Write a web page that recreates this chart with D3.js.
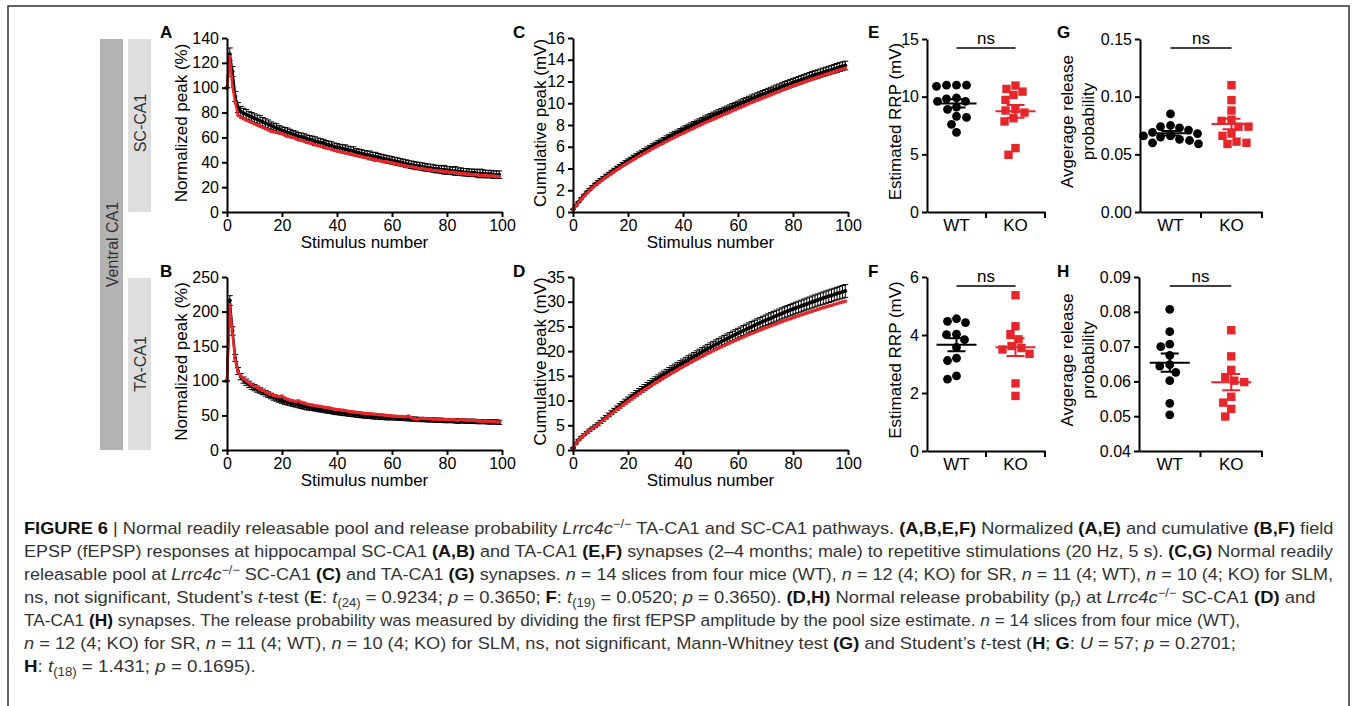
<!DOCTYPE html>
<html>
<head>
<meta charset="utf-8">
<script src="https://cdn.jsdelivr.net/npm/d3@7"></script>
<style>
  body { margin: 0; background: #fff; }
  svg text { font-family: "Liberation Sans", Arial, Helvetica, sans-serif; }
</style>
</head>
<body>
<svg id="fig" width="1354" height="706"></svg>
<script>
// ---- data ----
const groups = ["WT", "KO"];

// A: SC-CA1 normalized peak (%), stimulus 1..100
const normSC_wt = [100,127,113,93,84,81,79.5,78.5,77.5,76.5,
  75.5,74.5,73.5,72.5,71.5,70.5,69.5,68.5,67.5,66.5,
  65.5,65,64,63.5,62.5,62,61,60.5,60,59,
  58.5,58,57,56.5,56,55.5,54.5,54,53.5,52.5,
  52,51.5,51,50.5,50,49.5,49,48,47.5,47,
  46.5,46,45.5,45,44.5,44,43.5,43,42.5,42,
  41.5,41,40.5,40,39.5,39,38.5,38,37.5,37,
  37,36.5,36,35.5,35.5,35,34.5,34.5,34,34,
  33.5,33.5,33,33,32.5,32.5,32,32,31.5,31.5,
  31.5,31,31,31,30.5,30.5,30.5,30,30,30];
const normSC_wtSem = [0,5,4,4,4,4,4,4,3.5,3.5,
  3.5,3.5,4,3.5,3.5,3.5,3,3,3.5,3,
  3,3,3.5,3,3,3,3,3,3,3,
  3,3,3.5,3,3,3,3,3,3,3,
  3,3,3,3.5,3,3,3.5,3,3,3,
  3,3,3.5,3,3.5,3,3,3,3,3,
  3,3,3,3,3,3,3,3,3,3,
  3,3,3,3,3,3,3,3,3,3.5,
  3,3,3,3.5,3,3,3,3,3,3,
  3,3,3.5,3,3,3,3,3,3,3];
const normSC_ko = [100,125,101,88,78,76,75,74,73,72,
  71,70,69,68,67,66,65,64.5,64,63.5,
  63,62,61,60.5,60,59,58,57.5,57,56,
  55.5,55,54,53.5,53,52,51.5,51,50.5,49.5,
  49,48.5,48,47.5,47,46.5,46,45.5,45,44.5,
  44,43.5,43,42.5,42,41.5,41,40.5,40.5,40,
  39.5,39,38.5,38,37.5,37,36.5,36.5,36,35.5,
  35,35,34.5,34,34,33.5,33.5,33,33,32.5,
  32.5,32,32,31.5,31.5,31,31,30.5,30.5,30,
  30,30,29.5,29.5,29.5,29,29,29,28.5,28.5];

// B: TA-CA1 normalized peak (%)
const normTA_wt = [100,216,172,133,114,106,101,98,95,92,
  90,88,86,84,82,80,78,76,74.5,73,
  71.5,70,69,68,67,66,65,64,63,62,
  61,60.5,60,59,58.5,58,57,56.5,56,55,
  54.5,54,53.5,53,52.5,52,51.5,51,50.5,50,
  49.5,49,49,48.5,48,48,47.5,47.5,47,47,
  46.5,46.5,46,46,45.5,45.5,45,45,44.5,44.5,
  44,44,44,43.5,43.5,43.5,43,43,43,42.5,
  42.5,42.5,42.5,42,42,42,42,41.5,41.5,41.5,
  41.5,41,41,41,41,40.5,40.5,40.5,40.5,40];
const normTA_wtSem = [0,7,6,5,5,4.5,4.5,4.5,4.5,4.5,
  4.5,4.5,4,4,4,4,4,4,4,4,
  4,4,4,4,4,4,4,4,4,4,
  3.5,3.5,3.5,3.5,3.5,3.5,3.5,3.5,3.5,3.5,
  3.5,3.5,3.5,3.5,3.5,3.5,3.5,3.5,3.5,3.5,
  3.5,3.5,3.5,3.5,3.5,3.5,3.5,3.5,3.5,3.5,
  3,3,3,3,3,3,3,3,3,3,
  3,3,3,3,3,3,3,3,3,3,
  3,3,3,3,3.5,3,3,3,3,3,
  3,3,3,3,3,3,3,3,3,3];
const normTA_ko = [100,210,168,130,113,107,103,100,97,94,
  92,90,88,86,84,82,80.5,79,78,77,
  78,75,73.5,72,71,70.5,71,69,68,66.5,
  65.5,65,64,63.5,63,62,61.5,61,60,59,
  58.5,58,57.5,57,56,55.5,55,54.5,54,53.5,
  53,52.5,52.5,52,51.5,51,51,50.5,50,49.5,
  49,49,48.5,48.5,48,48,49,47,45,44.5,
  45,46,45.5,45,45,44.5,44.5,44,44.5,44,
  44,43.5,44,43.5,43,44,43.5,43,42.5,43,
  42.5,42,42,41.5,42,41.5,41,41,40.5,40.5];

// C: SC-CA1 cumulative peak (mV)
const cumSC_wt = [0.25,0.60,0.92,1.25,1.55,1.83,2.08,2.32,2.55,2.76,
  2.96,3.15,3.34,3.52,3.70,3.88,4.05,4.22,4.39,4.55,
  4.71,4.87,5.03,5.18,5.33,5.48,5.63,5.78,5.93,6.07,
  6.21,6.35,6.49,6.63,6.77,6.91,7.04,7.17,7.30,7.43,
  7.56,7.69,7.82,7.94,8.06,8.18,8.30,8.42,8.54,8.66,
  8.78,8.89,9.00,9.11,9.22,9.33,9.44,9.55,9.66,9.77,
  9.88,9.99,10.10,10.21,10.32,10.43,10.53,10.63,10.73,10.83,
  10.93,11.03,11.13,11.23,11.33,11.43,11.53,11.63,11.72,11.81,
  11.90,11.99,12.08,12.17,12.26,12.35,12.44,12.53,12.61,12.69,
  12.77,12.85,12.93,13.01,13.09,13.17,13.25,13.33,13.40,13.47];
const cumSC_wtSem = [0.02,0.04,0.05,0.06,0.07,0.08,0.09,0.1,0.1,0.11,
  0.12,0.12,0.13,0.13,0.14,0.14,0.15,0.15,0.16,0.16,
  0.17,0.17,0.18,0.18,0.19,0.19,0.2,0.2,0.2,0.21,
  0.21,0.22,0.22,0.22,0.23,0.23,0.24,0.24,0.24,0.25,
  0.25,0.25,0.26,0.26,0.26,0.27,0.27,0.27,0.28,0.28,
  0.28,0.29,0.29,0.29,0.3,0.3,0.3,0.3,0.31,0.31,
  0.31,0.32,0.32,0.32,0.32,0.33,0.33,0.33,0.33,0.34,
  0.34,0.34,0.34,0.35,0.35,0.35,0.35,0.36,0.36,0.36,
  0.36,0.37,0.37,0.37,0.37,0.37,0.38,0.38,0.38,0.38,
  0.38,0.39,0.39,0.39,0.39,0.4,0.4,0.4,0.4,0.4];
const cumSC_ko = [0.22,0.55,0.86,1.17,1.46,1.73,1.98,2.21,2.43,2.64,
  2.84,3.03,3.21,3.39,3.56,3.73,3.90,4.06,4.22,4.38,
  4.53,4.68,4.83,4.98,5.13,5.27,5.41,5.55,5.69,5.83,
  5.97,6.10,6.23,6.36,6.49,6.62,6.75,6.88,7.00,7.12,
  7.24,7.36,7.48,7.60,7.72,7.84,7.96,8.08,8.20,8.31,
  8.42,8.53,8.64,8.75,8.86,8.97,9.08,9.19,9.30,9.41,
  9.52,9.63,9.74,9.85,9.96,10.07,10.18,10.28,10.38,10.48,
  10.58,10.68,10.78,10.88,10.98,11.08,11.18,11.28,11.38,11.48,
  11.58,11.68,11.77,11.86,11.95,12.04,12.13,12.22,12.31,12.40,
  12.49,12.58,12.66,12.74,12.82,12.90,12.98,13.06,13.14,13.22];

// D: TA-CA1 cumulative peak (mV)
const cumTA_wt = [0.4,1.3,2.0,2.6,3.1,3.55,4.0,4.4,4.8,5.2,
  5.68,6.16,6.63,7.1,7.56,8.02,8.47,8.92,9.36,9.8,
  10.22,10.64,11.05,11.46,11.86,12.26,12.65,13.04,13.42,13.8,
  14.17,14.54,14.9,15.26,15.61,15.96,16.3,16.64,16.97,17.3,
  17.63,17.96,18.28,18.6,18.92,19.24,19.55,19.86,20.17,20.48,
  20.78,21.08,21.37,21.66,21.95,22.24,22.52,22.8,23.08,23.36,
  23.63,23.9,24.17,24.44,24.7,24.96,25.22,25.48,25.73,25.98,
  26.22,26.46,26.7,26.94,27.17,27.4,27.63,27.86,28.08,28.3,
  28.51,28.72,28.93,29.14,29.35,29.55,29.75,29.95,30.15,30.35,
  30.54,30.73,30.92,31.1,31.28,31.46,31.64,31.82,32.0,32.17];
const cumTA_wtSem = [0.05,0.1,0.13,0.16,0.19,0.21,0.23,0.25,0.27,0.29,
  0.31,0.33,0.35,0.37,0.39,0.41,0.43,0.45,0.46,0.48,
  0.5,0.52,0.53,0.55,0.56,0.58,0.59,0.61,0.62,0.64,
  0.65,0.66,0.68,0.69,0.7,0.72,0.73,0.74,0.75,0.77,
  0.78,0.79,0.8,0.81,0.82,0.83,0.85,0.86,0.87,0.88,
  0.89,0.9,0.91,0.92,0.93,0.94,0.95,0.96,0.97,0.98,
  0.99,1.0,1.01,1.02,1.02,1.03,1.04,1.05,1.06,1.07,
  1.08,1.09,1.09,1.1,1.11,1.12,1.13,1.13,1.14,1.15,
  1.16,1.16,1.17,1.18,1.19,1.19,1.2,1.21,1.22,1.22,
  1.23,1.24,1.24,1.25,1.26,1.26,1.27,1.28,1.28,1.29];
const cumTA_ko = [0.4,1.25,1.95,2.55,3.05,3.5,3.92,4.32,4.71,5.1,
  5.56,6.01,6.46,6.9,7.34,7.77,8.2,8.62,9.04,9.45,
  9.85,10.25,10.64,11.03,11.41,11.79,12.16,12.53,12.89,13.25,
  13.6,13.95,14.29,14.63,14.96,15.29,15.62,15.94,16.26,16.58,
  16.89,17.2,17.5,17.8,18.1,18.39,18.68,18.97,19.25,19.53,
  19.81,20.08,20.35,20.62,20.88,21.14,21.4,21.65,21.9,22.15,
  22.4,22.64,22.88,23.12,23.35,23.58,23.81,24.04,24.26,24.48,
  24.7,24.92,25.13,25.34,25.55,25.76,25.96,26.16,26.36,26.56,
  26.76,26.95,27.14,27.33,27.52,27.71,27.89,28.07,28.25,28.43,
  28.61,28.78,28.95,29.12,29.29,29.46,29.62,29.78,29.94,30.1];

// E-H: per-slice values
const rrpSC_wt = [11.0,10.9,11.0,11.0,9.9,9.8,9.6,9.6,9.1,8.9,8.2,8.3,7.6,6.9];
const rrpSC_ko = [10.15,10.67,10.96,10.44,9.72,8.8,8.91,8.62,8.13,7.85,5.54,4.96];
const rrpTA_wt = [4.47,4.43,4.56,4.03,4.01,3.84,3.57,3.12,3.2,2.48,2.59];
const rrpTA_ko = [5.37,4.3,4.03,3.85,3.62,3.55,3.5,3.35,2.33,1.9];
const prSC_wt = [0.085,0.075,0.074,0.073,0.071,0.069,0.068,0.066,0.066,0.065,0.063,0.062,0.060,0.059];
const prSC_ko = [0.110,0.097,0.088,0.080,0.079,0.074,0.074,0.068,0.066,0.061,0.060,0.059];
const prTA_wt = [0.0807,0.0743,0.0707,0.0700,0.0675,0.0648,0.0644,0.0626,0.0602,0.0537,0.0504];
const prTA_ko = [0.0747,0.0672,0.0633,0.0612,0.0602,0.0598,0.0556,0.0539,0.0521,0.0499];

// caption: [text, style]  B bold, I italic, ^ superscript, _ subscript
const captionLines = [
  [["FIGURE 6","B"],[" | Normal readily releasable pool and release probability ",""],["Lrrc4c","I"],["−/−","^"],[" TA-CA1 and SC-CA1 pathways. ",""],["(A,B,E,F)","B"],[" Normalized ",""],["(A,E)","B"],[" and cumulative ",""],["(B,F)","B"],[" field",""]],
  [["EPSP (fEPSP) responses at hippocampal SC-CA1 ",""],["(A,B)","B"],[" and TA-CA1 ",""],["(E,F)","B"],[" synapses (2–4 months; male) to repetitive stimulations (20 Hz, 5 s). ",""],["(C,G)","B"],[" Normal readily",""]],
  [["releasable pool at ",""],["Lrrc4c","I"],["−/−","^"],[" SC-CA1 ",""],["(C)","B"],[" and TA-CA1 ",""],["(G)","B"],[" synapses. ",""],["n","I"],[" = 14 slices from four mice (WT), ",""],["n","I"],[" = 12 (4; KO) for SR, ",""],["n","I"],[" = 11 (4; WT), ",""],["n","I"],[" = 10 (4; KO) for SLM,",""]],
  [["ns, not significant, Student’s ",""],["t","I"],["-test (",""],["E","B"],[": ",""],["t","I"],["(24)","_"],[" = 0.9234; ",""],["p","I"],[" = 0.3650; ",""],["F","B"],[": ",""],["t","I"],["(19)","_"],[" = 0.0520; ",""],["p","I"],[" = 0.3650). ",""],["(D,H)","B"],[" Normal release probability (p",""],["r","I_"],[") at ",""],["Lrrc4c","I"],["−/−","^"],[" SC-CA1 ",""],["(D)","B"],[" and",""]],
  [["TA-CA1 ",""],["(H)","B"],[" synapses. The release probability was measured by dividing the first fEPSP amplitude by the pool size estimate. ",""],["n","I"],[" = 14 slices from four mice (WT),",""]],
  [["n","I"],[" = 12 (4; KO) for SR, ",""],["n","I"],[" = 11 (4; WT), ",""],["n","I"],[" = 10 (4; KO) for SLM, ns, not significant, Mann-Whitney test ",""],["(G)","B"],[" and Student’s ",""],["t","I"],["-test (",""],["H","B"],["; ",""],["G","B"],[": ",""],["U","I"],[" = 57; ",""],["p","I"],[" = 0.2701;",""]],
  [["H","B"],[": ",""],["t","I"],["(18)","_"],[" = 1.431; ",""],["p","I"],[" = 0.1695).",""]]
];
const captionEnds = [1335, 1334, 1334, 1316, 1241, 1237, 256];

// ---- drawing ----
const svg = d3.select("#fig");
const RED = "#e6262b";

// outer frame
svg.append("rect").attr("x", 8).attr("y", 6).attr("width", 1341).attr("height", 720)
  .attr("fill", "none").attr("stroke", "#333").attr("stroke-width", 1.5);

// side labels
svg.append("rect").attr("x", 100).attr("y", 39).attr("width", 23).attr("height", 411).attr("fill", "#b3b3b3");
svg.append("rect").attr("x", 128).attr("y", 39).attr("width", 23).attr("height", 173).attr("fill", "#dedede");
svg.append("rect").attr("x", 128).attr("y", 278).attr("width", 23).attr("height", 172).attr("fill", "#dedede");
[["Ventral CA1", 111.5, 244.5], ["SC-CA1", 139.5, 123], ["TA-CA1", 139.5, 364]].forEach(([t, cx, cy]) => {
  svg.append("text").attr("transform", `translate(${cx + 6},${cy}) rotate(-90)`)
    .attr("text-anchor", "middle").attr("font-size", 16).attr("fill", "#333").text(t);
});

function styleAxis(a) {
  a.attr("font-family", null);
  a.select(".domain").attr("stroke-width", 2);
  a.selectAll(".tick line").attr("stroke-width", 2);
  a.selectAll(".tick text").attr("font-size", 16).attr("fill", "#000");
}

function panelLetter(t, x, y) {
  svg.append("text").attr("x", x).attr("y", y).attr("font-size", 17).attr("font-weight", "bold").text(t);
}

function lineChart(o) {
  const x = d3.scaleLinear().domain([0, 100]).range([o.x0, o.x1]);
  const y = d3.scaleLinear().domain([0, o.yMax]).range([o.yb, o.yt]);
  const g = svg.append("g");
  const wt = o.wt.map((v, i) => ({ i, v, e: o.sem[i] }));
  const ko = o.ko.map((v, i) => ({ i, v }));
  const line = d3.line().x(d => x(d.i)).y(d => y(d.v));

  g.selectAll(".eb").data(wt).enter().append("path")
    .attr("d", d => {
      const xx = x(d.i), y1 = y(d.v + d.e), y2 = y(d.v - d.e);
      return `M${xx},${y1}V${y2}M${xx - 3},${y1}h6M${xx - 3},${y2}h6`;
    })
    .attr("fill", "none").attr("stroke", "#000").attr("stroke-width", 1);
  g.append("path").datum(wt).attr("d", line).attr("fill", "none").attr("stroke", "#000").attr("stroke-width", 2.5);
  g.selectAll(".wd").data(wt).enter().append("circle")
    .attr("cx", d => x(d.i)).attr("cy", d => y(d.v)).attr("r", 2).attr("fill", "#000");

  g.append("path").datum(ko).attr("d", line).attr("fill", "none").attr("stroke", RED).attr("stroke-width", 2.5);
  g.selectAll(".kd").data(ko).enter().append("rect")
    .attr("x", d => x(d.i) - 1.6).attr("y", d => y(d.v) - 1.6).attr("width", 3.2).attr("height", 3.2).attr("fill", RED);

  const ya = g.append("g").attr("transform", `translate(${o.x0},0)`)
    .call(d3.axisLeft(y).tickValues(o.yTicks).tickSize(5).tickSizeOuter(0).tickPadding(3).tickFormat(d3.format("d")));
  styleAxis(ya);
  const xa = g.append("g").attr("transform", `translate(0,${o.yb})`)
    .call(d3.axisBottom(x).tickValues([0, 20, 40, 60, 80, 100]).tickSize(5).tickSizeOuter(0).tickPadding(3).tickFormat(d3.format("d")));
  styleAxis(xa);

  g.append("text").attr("x", (o.x0 + o.x1) / 2).attr("y", o.yb + 36).attr("text-anchor", "middle")
    .attr("font-size", 17).text("Stimulus number");
  g.append("text").attr("transform", `translate(${o.labX},${(o.yb + o.yt) / 2 - 2}) rotate(-90)`)
    .attr("text-anchor", "middle").attr("font-size", 17).text(o.yLabel);
}

function swarm(vals, y, r) {
  const placed = [];
  const pts = vals.map(v => ({ v, py: y(v) })).sort((a, b) => a.py - b.py);
  pts.forEach(p => {
    p.dx = 0;
    for (let k = 0; k < 80; k++) {
      const off = k === 0 ? 0 : (k % 2 ? -1 : 1) * Math.ceil(k / 2);
      if (placed.every(q => Math.hypot(q.dx - off, q.py - p.py) >= 2 * r + 0.4)) { p.dx = off; break; }
    }
    placed.push(p);
  });
  return pts;
}

function dotChart(o) {
  const x = d3.scaleBand().domain(groups).range([o.x0, o.x1]);
  const y = d3.scaleLinear().domain(o.yDom).range([o.yb, o.yt]);
  const g = svg.append("g");

  const ya = g.append("g").attr("transform", `translate(${o.x0},0)`)
    .call(d3.axisLeft(y).tickValues(o.yTicks).tickSize(5).tickSizeOuter(0).tickPadding(3).tickFormat(o.fmt));
  styleAxis(ya);
  const xa = g.append("g").attr("transform", `translate(0,${o.yb})`)
    .call(d3.axisBottom(x).tickSize(0).tickSizeOuter(0).tickPadding(7));
  styleAxis(xa);
  xa.selectAll(".tick text").attr("font-size", 17);
  groups.forEach(gr => {
    const bx = x(gr) + x.bandwidth();
    xa.append("line").attr("x1", bx).attr("x2", bx).attr("y1", 0).attr("y2", 6)
      .attr("stroke", "#000").attr("stroke-width", 2);
  });

  [["WT", o.wt, "#000"], ["KO", o.ko, RED]].forEach(([gr, vals, col]) => {
    const cx = x(gr) + x.bandwidth() / 2;
    const pts = swarm(vals, y, 4.4);
    if (gr === "WT") {
      g.selectAll(null).data(pts).enter().append("circle")
        .attr("cx", d => cx + d.dx).attr("cy", d => d.py).attr("r", 4.4).attr("fill", col);
    } else {
      g.selectAll(null).data(pts).enter().append("rect")
        .attr("x", d => cx + d.dx - 4.2).attr("y", d => d.py - 4.2).attr("width", 8.4).attr("height", 8.4).attr("fill", col);
    }
    const m = d3.mean(vals), se = d3.deviation(vals) / Math.sqrt(vals.length);
    g.append("line").attr("x1", cx - 20).attr("x2", cx + 20).attr("y1", y(m)).attr("y2", y(m))
      .attr("stroke", col).attr("stroke-width", 2);
    g.append("path")
      .attr("d", `M${cx},${y(m + se)}V${y(m - se)}M${cx - 9},${y(m + se)}h18M${cx - 9},${y(m - se)}h18`)
      .attr("fill", "none").attr("stroke", col).attr("stroke-width", 2);
  });

  const c1 = x("WT") + x.bandwidth() / 2, c2 = x("KO") + x.bandwidth() / 2;
  g.append("line").attr("x1", c1).attr("x2", c2).attr("y1", o.yt + 9).attr("y2", o.yt + 9)
    .attr("stroke", "#000").attr("stroke-width", 1.5);
  g.append("text").attr("x", (c1 + c2) / 2).attr("y", o.yt + 5).attr("text-anchor", "middle")
    .attr("font-size", 17).text("ns");

  o.yLabel.forEach((t, i) => {
    g.append("text").attr("transform", `translate(${o.labX[i]},${(o.yb + o.yt) / 2 - 4}) rotate(-90)`)
      .attr("text-anchor", "middle").attr("font-size", 17).text(t);
  });
}

lineChart({ x0: 227, x1: 502, yb: 212, yt: 38, yMax: 140, yTicks: d3.range(0, 141, 20),
  wt: normSC_wt, sem: normSC_wtSem, ko: normSC_ko, yLabel: "Normalized peak (%)", labX: 187 });
lineChart({ x0: 227, x1: 502, yb: 450, yt: 277, yMax: 250, yTicks: d3.range(0, 251, 50),
  wt: normTA_wt, sem: normTA_wtSem, ko: normTA_ko, yLabel: "Normalized peak (%)", labX: 187 });
lineChart({ x0: 573, x1: 848, yb: 212, yt: 38, yMax: 16, yTicks: d3.range(0, 17, 2),
  wt: cumSC_wt, sem: cumSC_wtSem, ko: cumSC_ko, yLabel: "Cumulative peak (mV)", labX: 546 });
lineChart({ x0: 573, x1: 848, yb: 450, yt: 277, yMax: 35, yTicks: d3.range(0, 36, 5),
  wt: cumTA_wt, sem: cumTA_wtSem, ko: cumTA_ko, yLabel: "Cumulative peak (mV)", labX: 546 });

dotChart({ x0: 927, x1: 1045, yb: 212, yt: 39, yDom: [0, 15], yTicks: [0, 5, 10, 15], fmt: d3.format("d"),
  wt: rrpSC_wt, ko: rrpSC_ko, yLabel: ["Estimated RRP (mV)"], labX: [901] });
dotChart({ x0: 927, x1: 1045, yb: 451, yt: 277, yDom: [0, 6], yTicks: [0, 2, 4, 6], fmt: d3.format("d"),
  wt: rrpTA_wt, ko: rrpTA_ko, yLabel: ["Estimated RRP (mV)"], labX: [901] });
dotChart({ x0: 1140, x1: 1262, yb: 212, yt: 39, yDom: [0, 0.15], yTicks: [0, 0.05, 0.10, 0.15], fmt: d3.format(".2f"),
  wt: prSC_wt, ko: prSC_ko, yLabel: ["Avgerage release", "probability"], labX: [1073, 1094] });
dotChart({ x0: 1139, x1: 1262, yb: 451, yt: 277, yDom: [0.04, 0.09], yTicks: [0.04, 0.05, 0.06, 0.07, 0.08, 0.09], fmt: d3.format(".2f"),
  wt: prTA_wt, ko: prTA_ko, yLabel: ["Avgerage release", "probability"], labX: [1073, 1094] });

panelLetter("A", 160, 38); panelLetter("B", 160, 277);
panelLetter("C", 513, 38); panelLetter("D", 513, 277);
panelLetter("E", 868, 38); panelLetter("F", 868, 277);
panelLetter("G", 1057, 38); panelLetter("H", 1057, 277);

// caption
captionLines.forEach((segs, li) => {
  const t = svg.append("text").attr("x", 24).attr("y", 534 + 23 * li)
    .attr("font-size", 17).attr("fill", "#333");
  let shift = 0;
  segs.forEach(([s, st]) => {
    const sp = t.append("tspan").text(s);
    if (st.includes("B")) sp.attr("font-weight", "bold").attr("fill", "#111");
    if (st.includes("I")) sp.attr("font-style", "italic");
    const target = st.includes("^") ? -6 : st.includes("_") ? 4 : 0;
    if (target !== shift) { sp.attr("dy", target - shift); shift = target; }
    if (target) sp.attr("font-size", 12);
  });
  const w = t.node().getComputedTextLength();
  const sx = (captionEnds[li] - 24) / w;
  t.attr("transform", `translate(24,0) scale(${sx},1) translate(-24,0)`);
});
</script>
</body>
</html>
